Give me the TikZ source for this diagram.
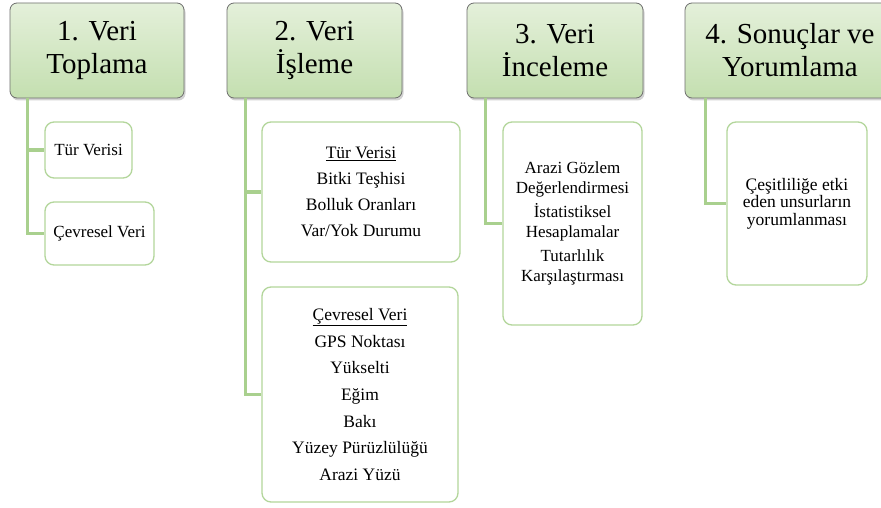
\documentclass[tikz,border=0pt]{standalone}
\usepackage{fontspec}
\setmainfont{Liberation Serif}
\usetikzlibrary{shadows}
\definecolor{connc}{HTML}{A9D08E}
\definecolor{boxline}{HTML}{B3D69B}
\definecolor{htop}{HTML}{E4F0DA}
\definecolor{hbot}{HTML}{C4DFB0}
\definecolor{hline}{HTML}{6E6E6E}
\begin{document}
\begin{tikzpicture}[x=1pt,y=-1pt,
  header/.style={draw=hline, line width=0.8pt, rounded corners=7pt,
    top color=htop, bottom color=hbot, align=center, inner sep=0pt,
    font=\fontsize{29}{33}\selectfont,
    drop shadow={shadow xshift=1.5pt, shadow yshift=-2.5pt, opacity=0.35}},
  child/.style={draw=boxline, line width=1.3pt, fill=white, rounded corners=9pt,
    align=center, inner sep=0pt},
  link/.style={draw=connc, line width=3.5pt}]
\useasboundingbox (0,0) rectangle (881,508);
\fill[white] (0,0) rectangle (881,508);
\begin{scope}
\clip (0,0) rectangle (881,508);
% headers
\node[header, minimum width=174pt, minimum height=95pt] (h1) at (97,50.5) {1. Veri\\Toplama};
\node[header, minimum width=175pt, minimum height=95pt] (h2) at (314.5,50.5) {2. Veri\\İşleme};
\node[header, minimum width=176pt, minimum height=95pt] (h3) at (555,50.5) {3. Veri\\İnceleme};
\node[header, minimum width=210pt, minimum height=95pt] (h4) at (790,50.5) {4. Sonuçlar ve\\Yorumlama};
% children
\node[child, minimum width=87pt, minimum height=56pt, font=\fontsize{17}{20}\selectfont] (c1a) at (88.5,150) {Tür Verisi};
\node[child, minimum width=109pt, minimum height=63pt, font=\fontsize{17}{20}\selectfont] (c1b) at (99.5,233.5) {Çevresel Veri};
\node[child, minimum width=198pt, minimum height=140pt, font=\fontsize{17.5}{26}\selectfont] (c2a) at (361,192)
  {\underline{Tür Verisi}\\Bitki Teşhisi\\Bolluk Oranları\\Var/Yok Durumu};
\node[child, minimum width=196pt, minimum height=215pt, font=\fontsize{17.5}{26.7}\selectfont] (c2b) at (360,394.5)
  {\underline{Çevresel Veri}\\GPS Noktası\\Yükselti\\Eğim\\Bakı\\Yüzey Pürüzlülüğü\\Arazi Yüzü};
\node[child, minimum width=139pt, minimum height=203pt, font=\fontsize{17}{19.5}\selectfont] (c3) at (572.5,223.5)
  {Arazi Gözlem\\Değerlendirmesi\\[5pt]İstatistiksel\\Hesaplamalar\\[5pt]Tutarlılık\\Karşılaştırması};
\node[child, minimum width=140pt, minimum height=163pt, font=\fontsize{17.5}{17.5}\selectfont] (c4) at (797,203.5)
  {Çeşitliliğe etki\\eden unsurların\\yorumlanması};
% connectors
\draw[link] ([xshift=18pt]h1.south west) |- (c1a.west);
\draw[link] ([xshift=18pt]h1.south west) |- (c1b.west);
\draw[link] ([xshift=19pt]h2.south west) |- (c2a.west);
\draw[link] ([xshift=19pt]h2.south west) |- (c2b.west);
\draw[link] ([xshift=19pt]h3.south west) |- (c3.west);
\draw[link] ([xshift=21pt]h4.south west) |- (c4.west);
\end{scope}
\end{tikzpicture}
\end{document}
